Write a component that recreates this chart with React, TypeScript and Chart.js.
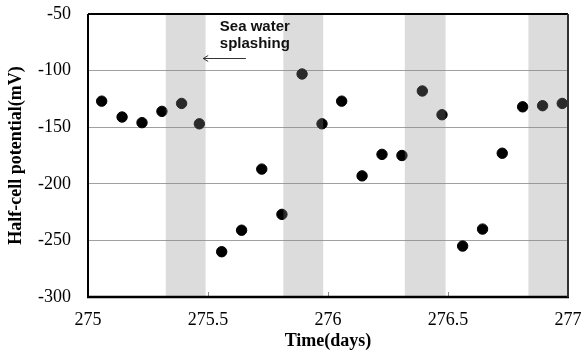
import React, { useEffect, useRef } from 'react';
import { Chart, registerables } from 'chart.js';

Chart.register(...registerables);

const timeDays = [275.057, 275.142, 275.225, 275.308, 275.39, 275.464, 275.557, 275.64, 275.724, 275.808, 275.892, 275.975, 276.057, 276.142, 276.225, 276.308, 276.393, 276.475, 276.561, 276.644, 276.726, 276.811, 276.894, 276.976];
const potential = [-127, -141, -146, -136, -129, -147, -260, -241, -187, -227, -103, -147, -127, -193, -174, -175, -118, -139, -255, -240, -173, -132, -131, -129];
const splashStart = [275.324, 275.814, 276.32, 276.835];
const splashEnd = [275.49, 275.98, 276.49, 277];
const innerTicks = [275.5, 276, 276.5];
const annotationLines = ['Sea water', 'splashing'];
const xTitle = 'Time(days)';
const yTitle = 'Half-cell potential(mV)';

const SERIF = '"Liberation Serif", "Times New Roman", serif';
const SANS = '"Liberation Sans", Arial, sans-serif';

const overlayPlugin = {
  id: 'overlay',
  afterDatasetsDraw(chart: any) {
    const { ctx, chartArea, scales } = chart;
    const x = scales.x;
    ctx.save();
    ctx.fillStyle = 'rgba(140,140,140,0.3)';
    for (let i = 0; i < splashStart.length; i++) {
      const x0 = x.getPixelForValue(splashStart[i]);
      const x1 = x.getPixelForValue(splashEnd[i]);
      ctx.fillRect(x0, chartArea.top, x1 - x0, chartArea.bottom - chartArea.top);
    }
    ctx.restore();
  },
  afterDraw(chart: any) {
    const { ctx, chartArea, scales } = chart;
    const { left, right, top, bottom } = chartArea;
    const x = scales.x;
    const y = scales.y;
    ctx.save();
    ctx.strokeStyle = '#888';
    ctx.lineWidth = 1;
    for (const t of innerTicks) {
      const px = Math.round(x.getPixelForValue(t)) + 0.5;
      ctx.beginPath();
      ctx.moveTo(px, bottom);
      ctx.lineTo(px, bottom - 5);
      ctx.stroke();
    }
    ctx.strokeStyle = '#000';
    ctx.lineWidth = 2;
    ctx.beginPath();
    ctx.moveTo(left, top);
    ctx.lineTo(right, top);
    ctx.moveTo(left, top);
    ctx.lineTo(left, bottom);
    ctx.stroke();
    ctx.lineWidth = 2.5;
    ctx.beginPath();
    ctx.moveTo(left - 1, bottom);
    ctx.lineTo(right + 1, bottom);
    ctx.stroke();
    ctx.strokeStyle = '#333';
    ctx.lineWidth = 2;
    ctx.beginPath();
    ctx.moveTo(right, top);
    ctx.lineTo(right, bottom);
    ctx.stroke();
    const ax = x.getPixelForValue(275.695);
    const ay = y.getPixelForValue(-61);
    ctx.fillStyle = '#111';
    ctx.font = `bold 15px ${SANS}`;
    ctx.textAlign = 'center';
    ctx.textBaseline = 'middle';
    annotationLines.forEach((s, i) => ctx.fillText(s, ax, ay + i * 17));
    const x0 = x.getPixelForValue(275.658);
    const x1 = x.getPixelForValue(275.48);
    const yy = Math.round(y.getPixelForValue(-89)) + 0.5;
    ctx.strokeStyle = '#333';
    ctx.lineWidth = 1;
    ctx.beginPath();
    ctx.moveTo(x0, yy);
    ctx.lineTo(x1, yy);
    ctx.moveTo(x1 + 5, yy - 3);
    ctx.lineTo(x1, yy);
    ctx.lineTo(x1 + 5, yy + 3);
    ctx.stroke();
    ctx.restore();
  },
};

export default function App() {
  const ref = useRef<HTMLCanvasElement>(null);
  useEffect(() => {
    if (!ref.current) return;
    const chart = new Chart(ref.current, {
      type: 'scatter',
      data: {
        datasets: [
          {
            data: timeDays.map((t, i) => ({ x: t, y: potential[i] })),
            backgroundColor: '#000',
            borderColor: '#000',
            pointRadius: 5.2,
            pointHoverRadius: 5.2,
            showLine: false,
          },
        ],
      },
      options: {
        animation: false,
        responsive: false,
        devicePixelRatio: 1,
        layout: { padding: { top: 14, right: 17, left: 0, bottom: 0 } },
        plugins: { legend: { display: false }, tooltip: { enabled: false } },
        scales: {
          x: {
            type: 'linear',
            min: 275,
            max: 277,
            ticks: {
              stepSize: 0.5,
              color: '#000',
              font: { family: SERIF, size: 18 },
              padding: 0,
              maxRotation: 0,
              autoSkip: false,
              callback: (v: any) => String(v),
            },
            grid: {
              display: true,
              drawOnChartArea: false,
              drawTicks: true,
              tickLength: 12,
              tickColor: 'rgba(0,0,0,0)',
            },
            border: { display: false },
            title: {
              display: true,
              text: xTitle,
              color: '#000',
              font: { family: SERIF, size: 18, weight: 'bold' },
              padding: { top: 0, bottom: 1.5 },
            },
            afterFit: (s: any) => {
              s.height = 57;
            },
          },
          y: {
            min: -300,
            max: -50,
            ticks: {
              stepSize: 50,
              color: '#000',
              font: { family: SERIF, size: 18 },
              padding: 0,
            },
            grid: {
              color: '#a0a0a0',
              lineWidth: 1,
              drawTicks: true,
              tickLength: 17,
              tickColor: 'rgba(0,0,0,0)',
            },
            border: { display: false },
            title: {
              display: true,
              text: yTitle,
              color: '#000',
              font: { family: SERIF, size: 18, weight: 'bold' },
              padding: { top: 6, bottom: 0 },
            },
            afterFit: (s: any) => {
              s.width = 88;
            },
          },
        },
      },
      plugins: [overlayPlugin],
    });
    return () => chart.destroy();
  }, []);
  return (
    <div style={{ position: 'fixed', left: 0, top: 0, width: 585, height: 354, background: '#fff' }}>
      <canvas ref={ref} width={585} height={354} />
    </div>
  );
}
